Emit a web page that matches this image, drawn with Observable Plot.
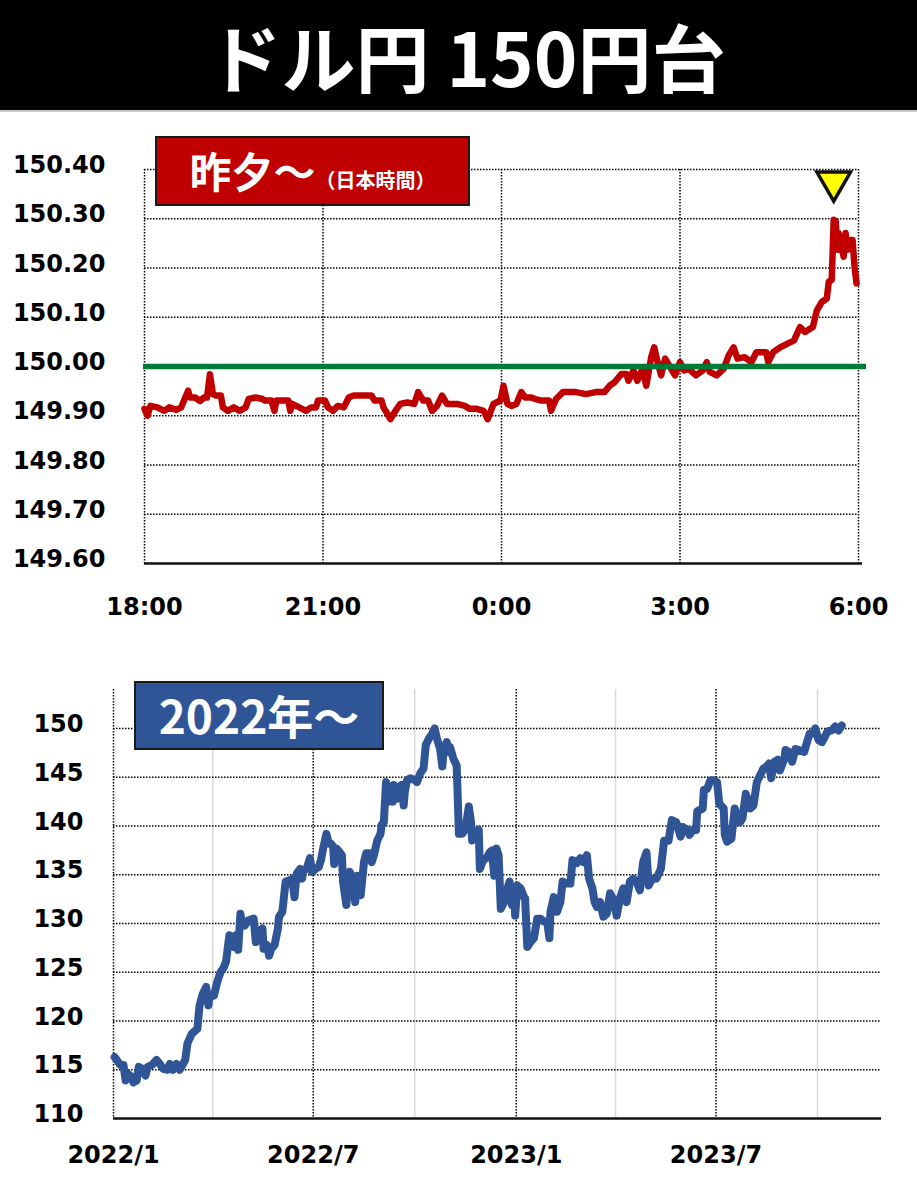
<!DOCTYPE html>
<html>
<head>
<meta charset="utf-8">
<script src="https://cdn.jsdelivr.net/npm/d3@7"></script>
<script src="https://cdn.jsdelivr.net/npm/@observablehq/plot@0.6"></script>
<style>
  body { margin: 0; background: #fff; }
  #page { position: relative; width: 917px; height: 1200px; overflow: hidden; background: #fff; }
  #header { position: absolute; left: 0; top: 0; width: 917px; height: 110px; background: #000; border-bottom: 2px solid #c8c8c8; }
  #title { position: absolute; left: 8px; top: 0; width: 917px; height: 110px; line-height: 110px; text-align: center; color: #fff;
           font-family: "Noto Sans CJK JP"; font-weight: 700; font-size: 74px; white-space: nowrap; }
  .box { position: absolute; box-sizing: border-box; border: 2px solid #1a1a1a; color: #fff; text-align: center;
         font-family: "Noto Sans CJK JP"; font-weight: 700; white-space: nowrap; }
  #box1 { left: 155px; top: 136px; width: 315px; height: 70px; background: #C00000; line-height: 64px; }
  #box2 { left: 134px; top: 681px; width: 250px; height: 69px; background: #2F5597; line-height: 63px; }
  #chart1 { position: absolute; left: 0; top: 112px; }
  #chart2 { position: absolute; left: 0; top: 640px; }
</style>
</head>
<body>
<div id="page">
  <div id="header"><div id="title">ドル円 150円台</div></div>
  <div id="chart1"></div>
  <div id="chart2"></div>
  <div class="box" id="box1"><span style="font-size:42px">昨夕～</span><span style="font-size:20px">（日本時間）</span></div>
  <div class="box" id="box2"><span style="font-size:46px">2022年～</span></div>
</div>
<script>
// ---------- Top chart: overnight (minutes since 18:00 JST) ----------
const topMinutes = [
  0,3,6,13,20,25,32,37,39,44,
  46,51,56,60,63,66,69,72,77,79,
  84,90,96,102,105,112,119,121,128,131,
  133,140,145,147,149,156,163,168,173,175,
  182,185,190,195,201,206,211,220,229,232,
  239,241,248,253,258,265,272,276,281,286,
  290,295,300,305,315,323,328,335,342,346,
  352,359,362,366,370,375,380,384,390,394,
  399,404,408,410,415,422,435,445,455,464,
  469,474,481,486,488,493,497,502,506,511,
  514,517,521,525,530,535,540,544,549,556,
  563,567,570,577,584,589,594,598,605,612,
  617,622,627,629,634,641,648,655,661,666,
  674,678,683,688,690,693,695,697,699,700,
  702,705,707,709,712,714,716,718
];
const topValues = [
  149.914,149.900,149.920,149.917,149.910,149.917,149.912,149.917,149.927,149.951,
  149.937,149.937,149.930,149.937,149.937,149.984,149.944,149.941,149.941,149.917,
  149.910,149.917,149.910,149.917,149.934,149.937,149.934,149.931,149.931,149.910,
  149.931,149.931,149.931,149.910,149.924,149.917,149.910,149.917,149.917,149.931,
  149.931,149.917,149.910,149.920,149.917,149.937,149.941,149.941,149.941,149.931,
  149.931,149.917,149.893,149.910,149.924,149.927,149.924,149.948,149.931,149.931,
  149.910,149.920,149.941,149.924,149.924,149.920,149.914,149.914,149.910,149.893,
  149.924,149.931,149.961,149.924,149.920,149.924,149.948,149.937,149.937,149.934,
  149.931,149.931,149.931,149.910,149.934,149.948,149.948,149.944,149.948,149.948,
  149.961,149.968,149.985,149.985,149.971,149.992,149.971,149.995,149.961,150.019,
  150.039,150.012,149.982,150.016,149.999,149.982,150.009,149.992,149.995,149.982,
  149.992,150.009,149.989,149.982,149.995,150.022,150.039,150.016,150.019,150.009,
  150.029,150.029,150.029,150.009,150.029,150.039,150.046,150.053,150.080,150.070,
  150.080,150.114,150.131,150.138,150.172,150.176,150.298,150.295,150.237,150.271,
  150.250,150.223,150.271,150.237,150.257,150.257,150.203,150.169
];
const topXTicks = [0, 180, 360, 540, 720];
const topXLabels = ["18:00", "21:00", "0:00", "3:00", "6:00"];
const topYTicks = [149.6, 149.7, 149.8, 149.9, 150.0, 150.1, 150.2, 150.3, 150.4];
const topReference = [150];

// ---------- Bottom chart: since 2022 ----------
const blueDates = [
  "2022-01-02","2022-01-04","2022-01-07","2022-01-10","2022-01-12","2022-01-14","2022-01-17","2022-01-19","2022-01-22","2022-01-24","2022-01-27","2022-01-30",
  "2022-02-01","2022-02-05","2022-02-09","2022-02-12","2022-02-15","2022-02-19","2022-02-21","2022-02-24","2022-02-27",
  "2022-03-02","2022-03-07","2022-03-09","2022-03-13","2022-03-16","2022-03-18","2022-03-20","2022-03-23","2022-03-26","2022-03-28","2022-03-29",
  "2022-04-02","2022-04-05","2022-04-08","2022-04-11","2022-04-13","2022-04-16","2022-04-18","2022-04-20","2022-04-22","2022-04-24","2022-04-26","2022-04-27","2022-04-30",
  "2022-05-03","2022-05-08","2022-05-10","2022-05-12","2022-05-14","2022-05-16","2022-05-17","2022-05-20","2022-05-22","2022-05-24","2022-05-27","2022-05-30","2022-05-31",
  "2022-06-03","2022-06-06","2022-06-09","2022-06-12","2022-06-14","2022-06-16","2022-06-19","2022-06-21","2022-06-22","2022-06-25","2022-06-28","2022-06-30",
  "2022-07-03","2022-07-06","2022-07-08","2022-07-10","2022-07-13","2022-07-15","2022-07-17","2022-07-19","2022-07-20","2022-07-22","2022-07-25","2022-07-27","2022-07-28","2022-07-31",
  "2022-08-02","2022-08-03","2022-08-06","2022-08-08","2022-08-10","2022-08-12","2022-08-13","2022-08-16","2022-08-18","2022-08-21","2022-08-23","2022-08-25","2022-08-28","2022-08-31",
  "2022-09-01","2022-09-03","2022-09-05","2022-09-07","2022-09-09","2022-09-11","2022-09-12","2022-09-15","2022-09-17","2022-09-19","2022-09-21","2022-09-22","2022-09-24","2022-09-27",
  "2022-10-01","2022-10-03","2022-10-06","2022-10-09","2022-10-11","2022-10-14","2022-10-17","2022-10-19","2022-10-21","2022-10-24","2022-10-26","2022-10-27","2022-10-30",
  "2022-11-01","2022-11-02","2022-11-05","2022-11-08","2022-11-09","2022-11-10","2022-11-13","2022-11-16","2022-11-19","2022-11-21","2022-11-22","2022-11-25","2022-11-28","2022-11-29",
  "2022-12-02","2022-12-05","2022-12-08","2022-12-10","2022-12-12","2022-12-14","2022-12-16","2022-12-18","2022-12-21","2022-12-24","2022-12-26","2022-12-28","2022-12-30","2022-12-31",
  "2023-01-02","2023-01-05","2023-01-08","2023-01-09","2023-01-11","2023-01-14","2023-01-17","2023-01-20","2023-01-23","2023-01-26","2023-01-29","2023-01-31",
  "2023-02-01","2023-02-04","2023-02-07","2023-02-10","2023-02-12","2023-02-16","2023-02-19","2023-02-21","2023-02-25","2023-02-28",
  "2023-03-03","2023-03-06","2023-03-08","2023-03-11","2023-03-13","2023-03-15","2023-03-18","2023-03-21","2023-03-24","2023-03-27","2023-03-30",
  "2023-04-02","2023-04-05","2023-04-08","2023-04-11","2023-04-14","2023-04-17","2023-04-20","2023-04-23","2023-04-26","2023-04-29",
  "2023-05-01","2023-05-04","2023-05-08","2023-05-12","2023-05-15","2023-05-19","2023-05-22","2023-05-26","2023-05-30",
  "2023-06-01","2023-06-05","2023-06-07","2023-06-10","2023-06-13","2023-06-14","2023-06-19","2023-06-20","2023-06-23","2023-06-26","2023-06-29",
  "2023-07-02","2023-07-04","2023-07-08","2023-07-09","2023-07-11","2023-07-15","2023-07-18","2023-07-21","2023-07-23","2023-07-25","2023-07-28",
  "2023-08-01","2023-08-04","2023-08-07","2023-08-10","2023-08-13","2023-08-16","2023-08-18","2023-08-20","2023-08-23","2023-08-26","2023-08-28",
  "2023-09-01","2023-09-02","2023-09-05","2023-09-08","2023-09-11","2023-09-14","2023-09-19","2023-09-22","2023-09-24","2023-09-27","2023-09-29",
  "2023-10-02","2023-10-05","2023-10-07","2023-10-10","2023-10-14","2023-10-17","2023-10-20","2023-10-23"
];
const blueValues = [
  116.3,116.0,115.5,115.5,113.9,114.6,114.3,113.7,113.9,115.3,115.1,114.4,
  115.3,115.5,116.0,115.6,115.1,115.0,115.6,115.0,115.6,
  115.0,116.0,117.7,118.7,119.0,119.2,121.6,122.8,123.5,121.6,122.6,
  122.6,124.0,125.0,125.5,126.1,128.8,128.1,127.6,128.8,127.3,131.0,130.2,129.8,
  130.3,130.5,128.1,128.6,129.3,129.5,127.4,127.8,126.7,127.4,127.8,129.5,130.7,
  131.2,134.3,134.4,134.6,132.7,135.1,135.6,134.6,135.5,135.6,136.7,135.3,
  135.6,135.8,136.5,137.7,139.2,138.2,138.2,137.9,136.1,137.7,137.3,137.0,134.3,131.9,
  134.3,135.3,134.6,132.2,134.9,134.6,132.9,136.3,137.2,137.2,136.3,137.0,138.5,139.2,
  140.1,140.4,144.5,142.5,144.0,142.5,144.2,142.8,144.0,144.2,142.1,143.5,144.7,144.9,
  144.7,144.5,145.4,145.9,148.3,149.0,149.5,150.0,149.0,147.9,146.1,147.6,148.6,
  147.6,148.1,146.9,146.2,142.8,139.2,139.2,139.7,142.0,140.4,138.5,139.4,139.6,135.6,
  136.5,136.7,137.3,137.5,134.9,137.7,137.0,131.5,132.2,133.6,134.3,131.9,133.6,130.8,
  133.9,133.6,132.7,132.6,127.6,128.1,128.5,130.5,130.5,130.2,130.2,128.5,
  131.2,132.7,131.2,132.2,134.3,134.1,134.1,136.5,136.2,136.7,
  136.3,137.0,134.6,133.6,132.2,131.7,132.2,130.7,131.0,133.1,132.4,
  130.8,132.6,133.6,132.2,134.3,134.6,134.3,133.4,136.3,137.3,
  133.9,134.6,134.6,135.6,138.5,138.5,140.6,140.4,138.9,
  139.9,139.6,139.1,139.6,139.6,141.5,141.8,143.7,143.8,144.7,144.7,
  144.5,142.3,141.8,139.1,138.4,138.7,141.8,140.8,140.4,140.8,143.3,
  141.8,142.1,144.5,145.2,145.9,146.1,146.4,144.9,146.6,146.8,145.7,
  146.9,147.8,147.6,146.6,147.9,147.8,147.6,148.8,149.5,149.5,150.0,
  148.8,148.6,149.0,149.7,149.8,150.2,149.8,150.3
];
const bottomDomain = ["2022-01-01", "2023-11-28"];
const bottomMajorTicks = ["2022-01-01", "2022-07-01", "2023-01-01", "2023-07-01"];
const bottomMajorLabels = ["2022/1", "2022/7", "2023/1", "2023/7"];
const bottomMinorTicks = ["2022-04-01", "2022-10-01", "2023-04-01", "2023-10-01"];
const bottomYTicks = [110, 115, 120, 125, 130, 135, 140, 145, 150];

// ---------- build ----------
const topData = topMinutes.map((t, i) => ({t, v: topValues[i]}));
const peakValue = d3.max(topData, d => d.v);
const peak = topData.filter(d => d.v === peakValue);

const downTriangle = {
  draw(context, size) {
    const y = Math.sqrt(size / (3 * Math.sqrt(3)));
    context.moveTo(0, 2 * y);
    context.lineTo(-Math.sqrt(3) * y, -y);
    context.lineTo(Math.sqrt(3) * y, -y);
    context.closePath();
  }
};

const dotted = {stroke: "#000", strokeWidth: 1.5, strokeDasharray: "1.5,1.5"};
const axisStyle = {fontFamily: "DejaVu Sans", fontSize: "24px", fontWeight: "bold", color: "#000", background: "transparent", overflow: "visible"};

const chart1 = Plot.plot({
  width: 917, height: 528,
  marginTop: 57, marginBottom: 77, marginLeft: 144, marginRight: 59,
  style: axisStyle,
  x: {domain: [0, 720]},
  y: {domain: [149.6, 150.4]},
  marks: [
    Plot.ruleY(topYTicks.slice(1), {...dotted}),
    Plot.ruleX(topXTicks, {...dotted}),
    Plot.ruleY([topYTicks[0]], {stroke: "#111", strokeWidth: 2.5, insetRight: -4}),
    Plot.line(topData, {x: "t", y: "v", stroke: "#C00000", strokeWidth: 6.5, strokeLinejoin: "round", strokeLinecap: "round"}),
    Plot.ruleY(topReference, {stroke: "#007A37", strokeWidth: 5.5, insetLeft: -1, insetRight: -8}),
    Plot.dot(peak, {x: "t", y: "v", dy: -38, r: 12.5, symbol: downTriangle, fill: "#FFFF00", stroke: "#111", strokeWidth: 3.5, strokeLinejoin: "miter"}),
    Plot.axisY({ticks: topYTicks, tickSize: 0, tickPadding: 39, tickFormat: d3.format(".2f"), dy: -4, label: null, fontSize: 24, fontWeight: "bold", fill: "#000"}),
    Plot.axisX({ticks: topXTicks, tickSize: 0, tickPadding: 34, tickFormat: t => topXLabels[topXTicks.indexOf(t)], label: null, fontSize: 24, fontWeight: "bold", fill: "#000"})
  ]
});
document.getElementById("chart1").append(chart1);

const blueData = blueDates.map((d, i) => ({date: new Date(d), v: blueValues[i]}));
const majorDates = bottomMajorTicks.map(d => new Date(d));
const chart2 = Plot.plot({
  width: 917, height: 560,
  marginTop: 49, marginBottom: 82, marginLeft: 113, marginRight: 36,
  style: axisStyle,
  x: {type: "utc", domain: bottomDomain.map(d => new Date(d))},
  y: {domain: [110, 154]},
  marks: [
    Plot.ruleX(bottomMinorTicks.map(d => new Date(d)), {stroke: "#d9d9d9", strokeWidth: 1.5}),
    Plot.ruleY(bottomYTicks.slice(1), {...dotted}),
    Plot.ruleX(majorDates, {...dotted}),
    Plot.ruleY([bottomYTicks[0]], {stroke: "#111", strokeWidth: 2.5}),
    Plot.line(blueData, {x: "date", y: "v", stroke: "#2F5597", strokeWidth: 8, strokeLinejoin: "round", strokeLinecap: "round"}),
    Plot.axisY({ticks: bottomYTicks, tickSize: 0, tickPadding: 30, dy: -4, label: null, fontSize: 24, fontWeight: "bold", fill: "#000"}),
    Plot.axisX({ticks: majorDates, tickSize: 0, tickPadding: 27, tickFormat: d => bottomMajorLabels[majorDates.findIndex(m => +m === +d)], label: null, fontSize: 24, fontWeight: "bold", fill: "#000"})
  ]
});
document.getElementById("chart2").append(chart2);
</script>
</body>
</html>
